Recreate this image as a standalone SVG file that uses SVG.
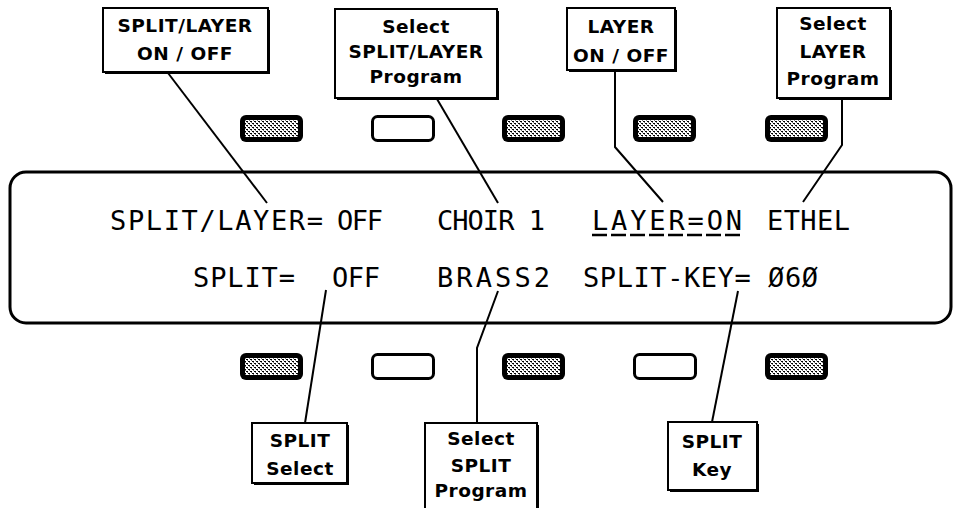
<svg xmlns="http://www.w3.org/2000/svg" width="953" height="508" viewBox="0 0 953 508">
<defs>
  <pattern id="dither" width="4" height="4" patternUnits="userSpaceOnUse">
    <rect width="4" height="4" fill="#fff"/>
    <rect x="0" y="0" width="2" height="1" fill="#000"/>
    <rect x="2" y="2" width="2" height="1" fill="#000"/>
    <rect x="1" y="1" width="1" height="1" fill="#777"/>
    <rect x="3" y="3" width="1" height="1" fill="#777"/>
  </pattern>
  <g id="shaded">
    <rect x="0" y="0" width="63" height="27" rx="6" fill="#000"/>
    <rect x="5" y="5" width="53" height="17" fill="url(#dither)"/>
  </g>
  <g id="plain">
    <rect x="1.5" y="1.5" width="61" height="24" rx="5" fill="#fff" stroke="#000" stroke-width="3"/>
  </g>
</defs>
<style>
  .box { fill: #fff; stroke: #000; stroke-width: 2; }
  .shadow { fill: #000; }
  .lbl { font-family: "DejaVu Sans", "Liberation Sans", sans-serif; font-size: 18.5px; font-weight: bold; text-anchor: middle; fill: #000; letter-spacing: 0.5px; }
  .lcd { font-family: "DejaVu Sans Mono", "Liberation Mono", monospace; font-size: 27px; fill: #000; }
  .conn { fill: none; stroke: #000; stroke-width: 2; }
</style>
<rect width="953" height="508" fill="#fff"/>

<g id="display">
  <rect x="10" y="172" width="941" height="151" rx="16" fill="none" stroke="#000" stroke-width="3"/>
  <text class="lcd" x="110" y="230" textLength="213">SPLIT/LAYER=</text>
  <text class="lcd" x="337" y="230" textLength="46">OFF</text>
  <text class="lcd" x="437" y="230" textLength="108">CHOIR 1</text>
  <text class="lcd" x="592" y="230" textLength="150">LAYER=ON</text>
  <line x1="592" y1="235" x2="742" y2="235" stroke="#000" stroke-width="2.5" stroke-dasharray="15 4"/>
  <text class="lcd" x="767" y="230" textLength="83">ETHEL</text>
  <text class="lcd" x="193" y="287" textLength="102">SPLIT=</text>
  <text class="lcd" x="332" y="287" textLength="48">OFF</text>
  <text class="lcd" x="437" y="287" textLength="113">BRASS2</text>
  <text class="lcd" x="583" y="287" textLength="235">SPLIT-KEY= Ø6Ø</text>
</g>

<g id="buttons-top">
  <use href="#shaded" x="240" y="115"/>
  <use href="#plain" x="371" y="115"/>
  <use href="#shaded" x="502" y="115"/>
  <use href="#shaded" x="633" y="115"/>
  <use href="#shaded" x="765" y="115"/>
</g>
<g id="buttons-bottom">
  <use href="#shaded" x="240" y="353"/>
  <use href="#plain" x="371" y="353"/>
  <use href="#shaded" x="502" y="353"/>
  <use href="#plain" x="633" y="353"/>
  <use href="#shaded" x="765" y="353"/>
</g>

<g id="connectors">
  <polyline class="conn" points="168,73 267,203"/>
  <polyline class="conn" points="437,99 498,203"/>
  <polyline class="conn" points="615,71 615,147 663,202"/>
  <polyline class="conn" points="842,99 842,145 803,202"/>
  <polyline class="conn" points="326,290 305,423"/>
  <polyline class="conn" points="498,291 477,348 477,423"/>
  <polyline class="conn" points="738,291 712,422"/>
</g>

<g id="n-splitlayer-onoff">
  <rect class="shadow" x="105" y="10" width="165" height="64"/>
  <rect class="box" x="103" y="8" width="165" height="64"/>
  <text class="lbl" x="185" y="32">SPLIT/LAYER</text>
  <text class="lbl" x="185" y="60">ON / OFF</text>
</g>
<g id="n-select-splitlayer">
  <rect class="shadow" x="337" y="11" width="162" height="89"/>
  <rect class="box" x="335" y="9" width="162" height="89"/>
  <text class="lbl" x="416" y="33">Select</text>
  <text class="lbl" x="416" y="58">SPLIT/LAYER</text>
  <text class="lbl" x="416" y="83">Program</text>
</g>
<g id="n-layer-onoff">
  <rect class="shadow" x="569" y="10" width="108" height="62"/>
  <rect class="box" x="567" y="8" width="108" height="62"/>
  <text class="lbl" x="621" y="33">LAYER</text>
  <text class="lbl" x="621" y="62">ON / OFF</text>
</g>
<g id="n-select-layer">
  <rect class="shadow" x="779" y="10" width="113" height="90"/>
  <rect class="box" x="777" y="8" width="113" height="90"/>
  <text class="lbl" x="833" y="30">Select</text>
  <text class="lbl" x="833" y="58">LAYER</text>
  <text class="lbl" x="833" y="85">Program</text>
</g>
<g id="n-split-select">
  <rect class="shadow" x="254" y="425" width="95" height="60"/>
  <rect class="box" x="252" y="423" width="95" height="60"/>
  <text class="lbl" x="300" y="447">SPLIT</text>
  <text class="lbl" x="300" y="475">Select</text>
</g>
<g id="n-select-split">
  <rect class="shadow" x="427" y="425" width="112" height="90"/>
  <rect class="box" x="425" y="423" width="112" height="90"/>
  <text class="lbl" x="481" y="445">Select</text>
  <text class="lbl" x="481" y="472">SPLIT</text>
  <text class="lbl" x="481" y="497">Program</text>
</g>
<g id="n-split-key">
  <rect class="shadow" x="670" y="424" width="89" height="68"/>
  <rect class="box" x="668" y="422" width="89" height="68"/>
  <text class="lbl" x="712" y="448">SPLIT</text>
  <text class="lbl" x="712" y="476">Key</text>
</g>
</svg>
